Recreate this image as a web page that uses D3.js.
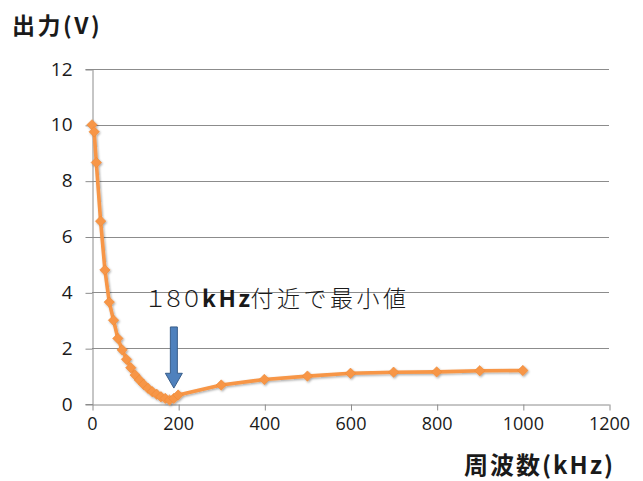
<!DOCTYPE html>
<html>
<head>
<meta charset="utf-8">
<script src="https://cdn.jsdelivr.net/npm/d3@7"></script>
<style>
  html, body { margin: 0; padding: 0; background: #fff; }
  svg { display: block; }
</style>
</head>
<body>
<svg id="chart" width="643" height="481"></svg>
<script>
// Output voltage versus frequency
const freqKHz = [0, 5, 10, 20, 30, 40, 50, 60, 70, 80, 90, 100, 110, 120, 130, 140, 150,
                 160, 170, 180, 190, 200, 300, 400, 500, 600, 700, 800, 900, 1000];
const outputV = [10, 9.75, 8.65, 6.55, 4.8, 3.65, 3.0, 2.35, 1.94, 1.6, 1.3, 1.04, 0.86, 0.7,
                 0.56, 0.44, 0.35, 0.26, 0.2, 0.14, 0.2, 0.32, 0.68, 0.88, 1.0, 1.1, 1.14,
                 1.15, 1.19, 1.2];
const xTicks = [0, 200, 400, 600, 800, 1000, 1200];
const yTicks = [0, 2, 4, 6, 8, 10, 12];

const yTitle = "出力(V)";
const xTitle = "周波数(kHz)";

const svg = d3.select("#chart");
const margin = { left: 92, right: 34, top: 69, bottom: 77 };
const W = 643, H = 481;

const x = d3.scaleLinear().domain([0, 1200]).range([margin.left, W - margin.right]);
const y = d3.scaleLinear().domain([0, 12]).range([H - margin.bottom, margin.top]);

const gridColor = "#8c8c8c";
const orange = "#F79646";
const tickFont = "'Open Sans', 'Liberation Sans', sans-serif";
const cjkFont = "'Noto Sans CJK JP', sans-serif";

// soft drop shadow for the series
const defs = svg.append("defs");
const f = defs.append("filter").attr("id", "shadow")
  .attr("x", "-20%").attr("y", "-20%").attr("width", "140%").attr("height", "140%");
f.append("feDropShadow").attr("dx", 1).attr("dy", 1.2).attr("stdDeviation", 0.9)
  .attr("flood-color", "#000").attr("flood-opacity", 0.35);

// horizontal gridlines
svg.append("g")
  .selectAll("line")
  .data(yTicks.filter(d => d > 0))
  .join("line")
  .attr("x1", x(0)).attr("x2", x(1200))
  .attr("y1", d => Math.round(y(d)) + 0.5).attr("y2", d => Math.round(y(d)) + 0.5)
  .attr("stroke", gridColor).attr("stroke-width", 1);

// y axis
const yAxis = svg.append("g")
  .attr("transform", `translate(${Math.round(x(0)) + 0.5},0)`)
  .call(d3.axisLeft(y).tickValues(yTicks).tickFormat(d3.format("d"))
    .tickSize(7).tickPadding(13));
yAxis.select(".domain").attr("stroke", gridColor);
yAxis.selectAll(".tick line").attr("stroke", gridColor)
  .attr("transform", "translate(0,0.5)");
yAxis.selectAll("text")
  .attr("font-family", tickFont).attr("font-size", 19).attr("fill", "#1a1a1a");

// x axis
const xAxis = svg.append("g")
  .attr("transform", `translate(0,${Math.round(y(0)) + 0.5})`)
  .call(d3.axisBottom(x).tickValues(xTicks).tickFormat(d3.format("d"))
    .tickSize(6).tickPadding(7).tickSizeOuter(0));
xAxis.select(".domain").attr("stroke", gridColor);
xAxis.selectAll(".tick line").attr("stroke", gridColor)
  .attr("transform", "translate(0.5,0)");
xAxis.selectAll("text")
  .attr("font-family", tickFont).attr("font-size", 18).attr("fill", "#1a1a1a");

// series line and diamond markers
const pts = freqKHz.map((f, i) => [f, outputV[i]]);
const series = svg.append("g").attr("filter", "url(#shadow)");
series.append("path")
  .datum(pts)
  .attr("d", d3.line().x(d => x(d[0])).y(d => y(d[1])))
  .attr("fill", "none").attr("stroke", orange)
  .attr("stroke-width", 3.6).attr("stroke-linejoin", "round");

const r = 5.2;
series.selectAll("path.mk")
  .data(pts)
  .join("path")
  .attr("class", "mk")
  .attr("d", `M0,${-r}L${r},0L0,${r}L${-r},0Z`)
  .attr("transform", d => `translate(${x(d[0])},${y(d[1])})`)
  .attr("fill", orange).attr("stroke", "#ee8a38").attr("stroke-width", 0.6);

// axis titles
svg.append("text")
  .attr("x", 12).attr("y", 34)
  .attr("font-family", cjkFont)
  .attr("font-weight", "bold").attr("font-size", 23).attr("letter-spacing", 2.5)
  .attr("fill", "#1a1a1a")
  .text(yTitle);

svg.append("text")
  .attr("x", 464).attr("y", 474)
  .attr("font-family", cjkFont)
  .attr("font-weight", "bold").attr("font-size", 24).attr("letter-spacing", 2)
  .attr("fill", "#1a1a1a")
  .text(xTitle);

// annotation for the minimum
const note = svg.append("text")
  .attr("x", 144).attr("y", 307)
  .attr("font-family", cjkFont)
  .attr("font-size", 23).attr("fill", "#1a1a1a");
note.append("tspan").attr("font-weight", 300).attr("letter-spacing", -5).text("１８０");
note.append("tspan").attr("font-weight", "bold").attr("dx", 4).attr("letter-spacing", 2.5).text("kHz");
note.append("tspan").attr("font-weight", 300).attr("dx", -2).attr("letter-spacing", 3.5).text("付近で最小値");

// arrow pointing at the minimum
const ax = x(190), aTop = y(2.76), aNeck = y(1.1), aTip = y(0.57);
const sw = 3.5, hw = 8.5;
svg.append("path")
  .attr("d", `M${ax - sw},${aTop}L${ax + sw},${aTop}L${ax + sw},${aNeck}L${ax + hw},${aNeck}` +
             `L${ax},${aTip}L${ax - hw},${aNeck}L${ax - sw},${aNeck}Z`)
  .attr("fill", "#4F81BD").attr("stroke", "#385D8A").attr("stroke-width", 1);
</script>
</body>
</html>
